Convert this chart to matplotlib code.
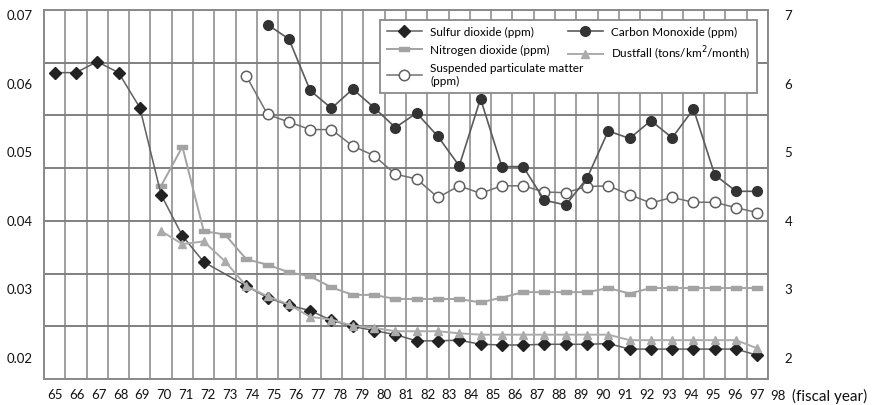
import numpy as np
import matplotlib
matplotlib.use("Agg")
import matplotlib.pyplot as plt
from matplotlib.path import Path
from matplotlib.transforms import blended_transform_factory

plt.rcParams['font.family'] = ['Lato', 'DejaVu Sans']

# fiscal years, one column each (65 .. 98)
years = list(range(65, 99))
nan = np.nan

# left axis (ppm)
so2 = [0.0616, 0.0616, 0.0632, 0.0616, 0.0565, 0.0438, 0.0378, 0.0340, nan, 0.0305,
       0.0288, 0.0277, 0.0269, 0.0255, 0.0246, 0.0240, 0.0234, 0.0225, 0.0225, 0.0226,
       0.0220, 0.0219, 0.0219, 0.0220, 0.0220, 0.0220, 0.0221, 0.0213, 0.0213, 0.0213,
       0.0213, 0.0213, 0.0213, 0.0204]
no2 = [nan, nan, nan, nan, nan, 0.0451, 0.0508, 0.0385, 0.0380, 0.0344,
       0.0336, 0.0325, 0.0319, 0.0303, 0.0292, 0.0292, 0.0286, 0.0286, 0.0286, 0.0286,
       0.0281, 0.0288, 0.0296, 0.0296, 0.0296, 0.0296, 0.0302, 0.0294, 0.0302, 0.0302,
       0.0302, 0.0302, 0.0302, 0.0302]
spm = [nan, nan, nan, nan, nan, nan, nan, nan, nan, 0.0611,
       0.0555, 0.0544, 0.0533, 0.0533, 0.0509, 0.0495, 0.0468, 0.0461, 0.0434, 0.0451,
       0.0440, 0.0451, 0.0451, 0.0442, 0.0441, 0.0450, 0.0451, 0.0438, 0.0426, 0.0434,
       0.0427, 0.0427, 0.0419, 0.0412]

# right axis
co = [nan, nan, nan, nan, nan, nan, nan, nan, nan, nan,
      6.86, 6.65, 5.90, 5.64, 5.92, 5.65, 5.36, 5.57, 5.23, 4.80,
      5.78, 4.79, 4.79, 4.30, 4.23, 4.62, 5.31, 5.20, 5.46, 5.21,
      5.63, 4.67, 4.43, 4.43]
dustfall = [nan, nan, nan, nan, nan, 3.85, 3.66, 3.70, 3.41, 3.05,
            2.90, 2.78, 2.60, 2.56, 2.47, 2.44, 2.39, 2.39, 2.39, 2.36,
            2.34, 2.34, 2.34, 2.34, 2.34, 2.34, 2.34, 2.26, 2.26, 2.26,
            2.26, 2.26, 2.26, 2.14]

left_ticks = [0.02, 0.03, 0.04, 0.05, 0.06, 0.07]
right_ticks = [2, 3, 4, 5, 6, 7]
xlabels = [str(y) for y in years[:-1]]

fig = plt.figure(figsize=(8.8, 4.05), dpi=100)
ax = fig.add_axes([44 / 880, 26 / 405, 724 / 880, 369 / 405])
ax2 = ax.twinx()

ymin, ymax = 0.016939, 0.070729
ax.set_xlim(0, len(years))
ax.set_ylim(ymin, ymax)
ax2.set_ylim(ymin * 100, ymax * 100)

# grid: one column per year, 7 even bands
ax.set_xticks(np.arange(len(years) + 1), minor=True)
ax.set_yticks(np.linspace(ymin, ymax, 8), minor=True)
ax.grid(which='minor', axis='x', color='#999999', lw=1.3)
ax.grid(which='minor', axis='y', color='#808080', lw=1.4)
ax.set_axisbelow(True)

# tick labels
ax.set_xticks(0.5 + np.arange(len(xlabels)) * 1.03)
ax.set_xticklabels(xlabels)
ax.set_yticks(left_ticks)
ax.set_yticklabels([f"{v:.2f}" for v in left_ticks])
ax2.set_yticks(right_ticks)
ax2.set_yticklabels([str(v) for v in right_ticks])
for a in (ax, ax2):
    a.tick_params(which='both', length=0, labelsize=9.5, colors='#111111')
    for s in a.spines.values():
        s.set_color('#8a8a8a')
        s.set_linewidth(1.2)
ax.tick_params(axis='x', pad=7)
ax.tick_params(axis='y', pad=8)
ax2.tick_params(axis='y', pad=12)

trans = blended_transform_factory(ax.transData, ax.transAxes)
ax.text(34.49, -0.046, "98", transform=trans, ha='center', va='center',
        fontsize=9.5, color='#111111')
ax.text(35.15, -0.046, "(fiscal year)", transform=trans, ha='left', va='center',
        fontsize=11, color='#111111')

x = np.arange(len(years)) + 0.5
rect = Path([(-1, -0.5), (1, -0.5), (1, 0.5), (-1, 0.5), (-1, -0.5)],
            [Path.MOVETO, Path.LINETO, Path.LINETO, Path.LINETO, Path.CLOSEPOLY])


def draw(a, vals, **kw):
    v = np.array(vals, dtype=float)
    m = ~np.isnan(v)
    return a.plot(x[m], v[m], **kw)[0]


h_no2 = draw(ax, no2, color='#a3a3a3', lw=1.4, marker=rect, ms=7,
             mfc='#a3a3a3', mec='#a3a3a3', label='Nitrogen dioxide (ppm)')
h_dust = draw(ax2, dustfall, color='#ababab', lw=1.4, marker='^', ms=6,
              mfc='#ababab', mec='#ababab', label='Dustfall (tons/km$^2$/month)')
h_spm = draw(ax, spm, color='#707070', lw=1.1, marker='o', ms=7.5,
             mfc='white', mec='#606060', mew=1.1,
             label='Suspended particulate matter\n(ppm)')
h_so2 = draw(ax, so2, color='#606060', lw=1.1, marker='D', ms=6.3,
             mfc='#222222', mec='#222222', label='Sulfur dioxide (ppm)')
h_co = draw(ax2, co, color='#5a5a5a', lw=1.2, marker='o', ms=7,
            mfc='#333333', mec='#333333', label='Carbon Monoxide (ppm)')

leg = ax2.legend(handles=[h_so2, h_no2, h_spm, h_co, h_dust], ncol=2,
                 loc='upper left', bbox_to_anchor=(0.456, 0.0, 0.537, 0.989),
                 mode='expand', fontsize=8.5, frameon=True, fancybox=False,
                 edgecolor='#8a8a8a', framealpha=1, handlelength=3.0,
                 handletextpad=0.7, labelspacing=0.6, borderpad=0.55,
                 columnspacing=1.2)
leg.get_frame().set_linewidth(1.3)

fig.savefig("out.png", dpi=100)
